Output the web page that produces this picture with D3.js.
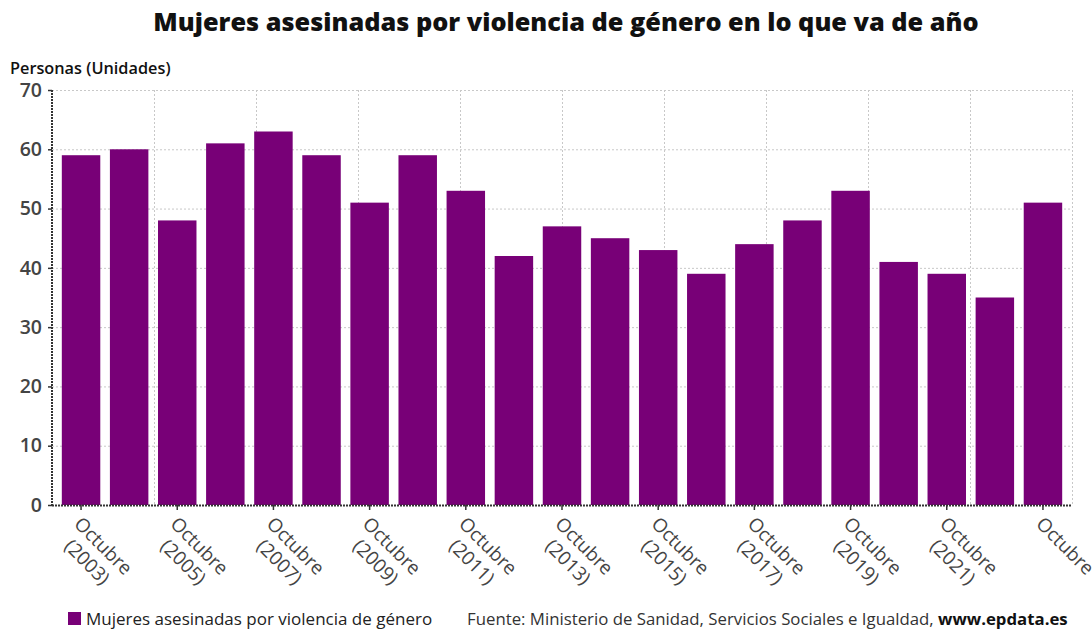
<!DOCTYPE html>
<html>
<head>
<meta charset="utf-8">
<script src="https://cdn.jsdelivr.net/npm/d3@7"></script>
<style>
  html, body { margin: 0; padding: 0; background: #fff; }
  svg { display: block; font-family: "Open Sans", sans-serif; }
</style>
</head>
<body>
<svg id="chart" width="1092" height="629"></svg>
<script>
const years = [2003, 2004, 2005, 2006, 2007, 2008, 2009, 2010, 2011, 2012, 2013, 2014, 2015, 2016, 2017, 2018, 2019, 2020, 2021, 2022, 2023];
const categories = ["Octubre (2003)", "Octubre (2004)", "Octubre (2005)", "Octubre (2006)", "Octubre (2007)", "Octubre (2008)", "Octubre (2009)", "Octubre (2010)", "Octubre (2011)", "Octubre (2012)", "Octubre (2013)", "Octubre (2014)", "Octubre (2015)", "Octubre (2016)", "Octubre (2017)", "Octubre (2018)", "Octubre (2019)", "Octubre (2020)", "Octubre (2021)", "Octubre (2022)", "Octubre"];
const values = [59, 60, 48, 61, 63, 59, 51, 59, 53, 42, 47, 45, 43, 39, 44, 48, 53, 41, 39, 35, 51];
const yTicks = [0, 10, 20, 30, 40, 50, 60, 70];
const title = "Mujeres asesinadas por violencia de género en lo que va de año";
const yAxisTitle = "Personas (Unidades)";
const seriesName = "Mujeres asesinadas por violencia de género";
const sourceText = "Fuente: Ministerio de Sanidad, Servicios Sociales e Igualdad, ";
const sourceLink = "www.epdata.es";

const svg = d3.select("#chart");
const plot = { left: 52, right: 1072, top: 90, bottom: 505 };
const barColor = "#780077";

const x = d3.scaleBand().domain(categories).range([57, 1067]).paddingInner(0.2).paddingOuter(0.1);
const y = d3.scaleLinear().domain([0, 70]).range([plot.bottom, plot.top]);
const xGrid = d3.scaleLinear().domain([0, 10]).range([plot.left, plot.right]);

// Title
svg.append("text").attr("x", 566).attr("y", 31).attr("text-anchor", "middle")
  .attr("font-size", 25.3).attr("font-weight", 800).attr("fill", "#111").text(title);

// Y axis title
svg.append("text").attr("x", 10).attr("y", 73.5).attr("font-size", 16.3).attr("font-weight", 600)
  .attr("fill", "#111").text(yAxisTitle);

// Grid
const grid = svg.append("g");
grid.selectAll("line.h").data(yTicks.filter(d => d > 0)).join("line")
  .attr("x1", plot.left).attr("x2", plot.right)
  .attr("y1", d => y(d) + 0.5).attr("y2", d => y(d) + 0.5)
  .attr("stroke", "#c8c8c8").attr("stroke-dasharray", "2,2");
grid.selectAll("line.v").data(d3.range(1, 11)).join("line")
  .attr("x1", d => xGrid(d) + 0.5).attr("x2", d => xGrid(d) + 0.5)
  .attr("y1", plot.top).attr("y2", plot.bottom)
  .attr("stroke", "#c8c8c8").attr("stroke-dasharray", "2,2");

// Bars
svg.append("g").selectAll("rect").data(values).join("rect")
  .attr("x", (d, i) => x(categories[i]))
  .attr("width", x.bandwidth())
  .attr("y", d => y(d))
  .attr("height", d => y(0) - y(d))
  .attr("fill", barColor);

// Y axis
const yAxis = svg.append("g").attr("transform", `translate(${plot.left},0)`)
  .call(d3.axisLeft(y).tickValues(yTicks).tickSize(4).tickPadding(6));
yAxis.select(".domain").remove();
yAxis.selectAll(".tick line").attr("stroke", "#333").attr("stroke-width", 1.5);
yAxis.selectAll(".tick text").attr("font-size", 19.5).attr("font-weight", 600).attr("fill", "#444")
  .attr("font-family", "Open Sans, sans-serif");
svg.append("line").attr("x1", plot.left).attr("x2", plot.left).attr("y1", plot.top).attr("y2", plot.bottom + 1)
  .attr("stroke", "#333").attr("stroke-width", 2).attr("stroke-dasharray", "2,1");

// X axis
const labeled = categories.filter((c, i) => i % 2 === 0);
const xAxis = svg.append("g").attr("transform", `translate(0,${plot.bottom})`)
  .call(d3.axisBottom(x).tickValues(labeled).tickSize(5).tickFormat(""));
xAxis.select(".domain").remove();
xAxis.selectAll(".tick line").attr("stroke", "#333").attr("stroke-width", 1.5);
svg.append("line").attr("x1", plot.left).attr("x2", plot.right).attr("y1", plot.bottom + 0.5).attr("y2", plot.bottom + 0.5)
  .attr("stroke", "#333").attr("stroke-width", 2).attr("stroke-dasharray", "2,1");

// X labels rotated
const lbl = svg.append("g");
labeled.forEach(c => {
  const cx = x(c) + x.bandwidth() / 2;
  const m = c.match(/^(\S+)\s*(.*)$/);
  const lines = m[2] ? [m[1], m[2]] : [m[1]];
  const g = lbl.append("g").attr("transform", `translate(${cx - 8},${525}) rotate(45)`);
  const t = g.append("text").attr("font-size", 19).attr("font-weight", 500).attr("fill", "#444").attr("text-anchor", "middle");
  const tsp = lines.map((ln, k) => t.append("tspan").attr("dy", k === 0 ? 0 : "1.2em").text(ln));
  const w = tsp[0].node().getComputedTextLength();
  tsp.forEach(s => s.attr("x", w / 2));
});

// Legend
svg.append("rect").attr("x", 68).attr("y", 612).attr("width", 13).attr("height", 13).attr("fill", barColor);
svg.append("text").attr("x", 86).attr("y", 625).attr("font-size", 17).attr("fill", "#222").text(seriesName);

// Source
const src = svg.append("text").attr("x", 467).attr("y", 625).attr("font-size", 16.8).attr("fill", "#333");
src.append("tspan").text(sourceText);
src.append("tspan").attr("font-weight", 700).attr("fill", "#111").text(sourceLink);
</script>
</body>
</html>
